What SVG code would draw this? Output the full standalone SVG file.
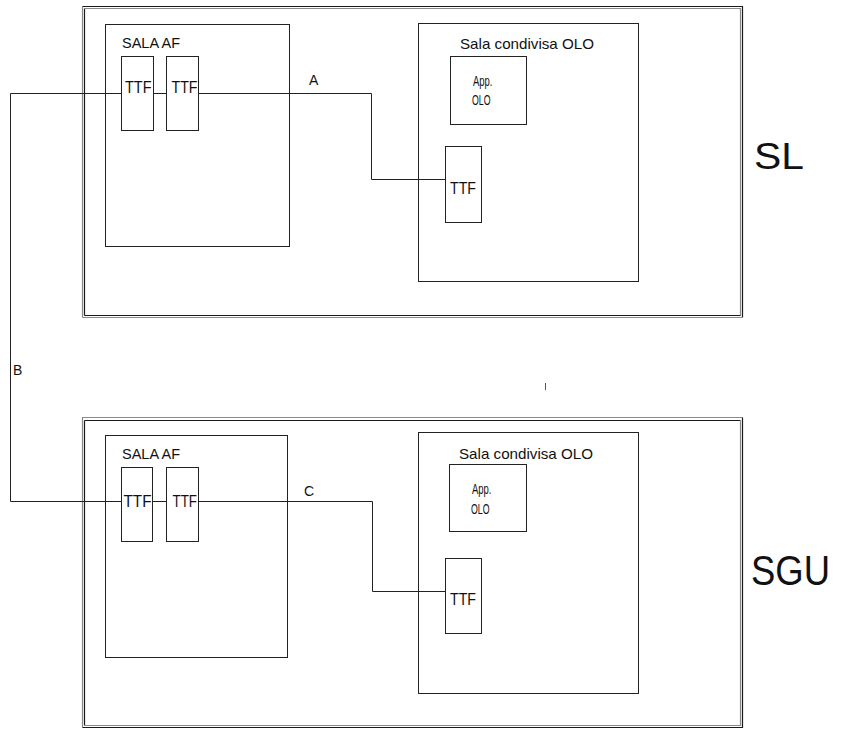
<svg xmlns="http://www.w3.org/2000/svg" width="848" height="729" viewBox="0 0 848 729">
<style>
.box{fill:none;stroke:#222;stroke-width:1}
.w{fill:#fff;stroke:#222;stroke-width:1}
.dk{stroke:#1a1a1a;stroke-width:1.2;fill:none}
.gr{stroke:#8a8a8a;stroke-width:1.2;fill:none}
.ln{fill:none;stroke:#222;stroke-width:1}
text{font-family:"Liberation Sans",Arial,sans-serif;fill:#111}
.t14{font-size:14px}
.t15{font-size:15px}
.ttf{font-size:16px}
</style>
<rect width="848" height="729" fill="#fff"/>
<g id="frame-sl">
<path class="gr" d="M82.5,317.5 V6.5"/><path class="dk" d="M82.5,6.5 H742.5 V317.5"/><path class="gr" d="M82.5,317.5 H742.5"/>
<path class="dk" d="M84.5,315.5 V8.5"/><path class="gr" d="M84.5,8.5 H740.5 V315.5"/><path class="dk" d="M84.5,315.5 H740.5"/>
<text x="754" y="169" font-size="36" textLength="50" lengthAdjust="spacingAndGlyphs">SL</text>
</g>
<g id="frame-sgu">
<path class="gr" d="M82.5,727.5 V417.5 H742.5"/><path class="dk" d="M742.5,417.5 V727.5 H82.5"/>
<path class="dk" d="M84.5,725.5 V420.5"/><path class="dk" d="M84.5,420.5 H740.5"/><path class="gr" d="M740.5,420.5 V725.5 H84.5"/>
<line x1="545.5" y1="383" x2="545.5" y2="390" stroke="#555" stroke-width="1"/>
<text x="751" y="585" font-size="42" textLength="79" lengthAdjust="spacingAndGlyphs">SGU</text>
</g>
<g id="connectors">
<path class="ln" d="M198.5,93.5 H371.5 V179.5 H445.5"/>
<path class="ln" d="M153.5,93.5 H166.5"/>
<path class="ln" d="M121.5,93.5 H10.5 V501.5 H121.5"/>
<path class="ln" d="M198.5,501.5 H372.5 V591.5 H445.5"/>
<path class="ln" d="M152.5,501.5 H166.5"/>
<text class="t14" x="309" y="85">A</text>
<text class="t14" x="13" y="375">B</text>
<text class="t14" x="304" y="496">C</text>
</g>
<g id="sala-af-sl">
<rect class="box" x="105.5" y="24.5" width="184" height="222"/>
<text class="t14" x="122" y="48" textLength="58" lengthAdjust="spacingAndGlyphs">SALA AF</text>
</g>
<g id="ttf1-sl">
<rect class="w" x="121.5" y="56.5" width="32" height="74"/>
<text class="ttf" x="125" y="93" textLength="26.5" lengthAdjust="spacingAndGlyphs">TTF</text>
</g>
<g id="ttf2-sl">
<rect class="w" x="166.5" y="56.5" width="32" height="74"/>
<text class="ttf" x="171.5" y="93" textLength="26" lengthAdjust="spacingAndGlyphs">TTF</text>
</g>
<g id="sala-olo-sl">
<rect class="box" x="418.5" y="23.5" width="220" height="258"/>
<text class="t15" x="460" y="49" textLength="134" lengthAdjust="spacingAndGlyphs">Sala condivisa OLO</text>
</g>
<g id="app-olo-sl">
<rect class="box" x="450.5" y="56.5" width="76" height="68"/>
<text class="t15" x="473" y="85.5" textLength="19.5" lengthAdjust="spacingAndGlyphs">App.</text>
<text class="t15" x="472" y="105" textLength="18.5" lengthAdjust="spacingAndGlyphs">OLO</text>
</g>
<g id="ttf3-sl">
<rect class="w" x="445.5" y="146.5" width="36" height="76"/>
<text class="ttf" x="450" y="194" textLength="26" lengthAdjust="spacingAndGlyphs">TTF</text>
</g>
<g id="sala-af-sgu">
<rect class="box" x="105.5" y="435.5" width="182" height="222"/>
<text class="t14" x="122" y="459" textLength="58" lengthAdjust="spacingAndGlyphs">SALA AF</text>
</g>
<g id="ttf1-sgu">
<rect class="w" x="121.5" y="467.5" width="31" height="74"/>
<text class="ttf" x="123.5" y="506.5" textLength="28" lengthAdjust="spacingAndGlyphs">TTF</text>
</g>
<g id="ttf2-sgu">
<rect class="w" x="166.5" y="467.5" width="32" height="74"/>
<text class="ttf" x="172.5" y="506.5" textLength="24.5" lengthAdjust="spacingAndGlyphs">TTF</text>
</g>
<g id="sala-olo-sgu">
<rect class="box" x="418.5" y="432.5" width="220" height="261"/>
<text class="t15" x="459" y="459" textLength="134" lengthAdjust="spacingAndGlyphs">Sala condivisa OLO</text>
</g>
<g id="app-olo-sgu">
<rect class="box" x="449.5" y="464.5" width="77" height="67"/>
<text class="t15" x="472" y="494" textLength="19.5" lengthAdjust="spacingAndGlyphs">App.</text>
<text class="t15" x="471" y="514" textLength="18.5" lengthAdjust="spacingAndGlyphs">OLO</text>
</g>
<g id="ttf3-sgu">
<rect class="w" x="445.5" y="558.5" width="36" height="75"/>
<text class="ttf" x="450" y="605" textLength="26" lengthAdjust="spacingAndGlyphs">TTF</text>
</g>
</svg>
